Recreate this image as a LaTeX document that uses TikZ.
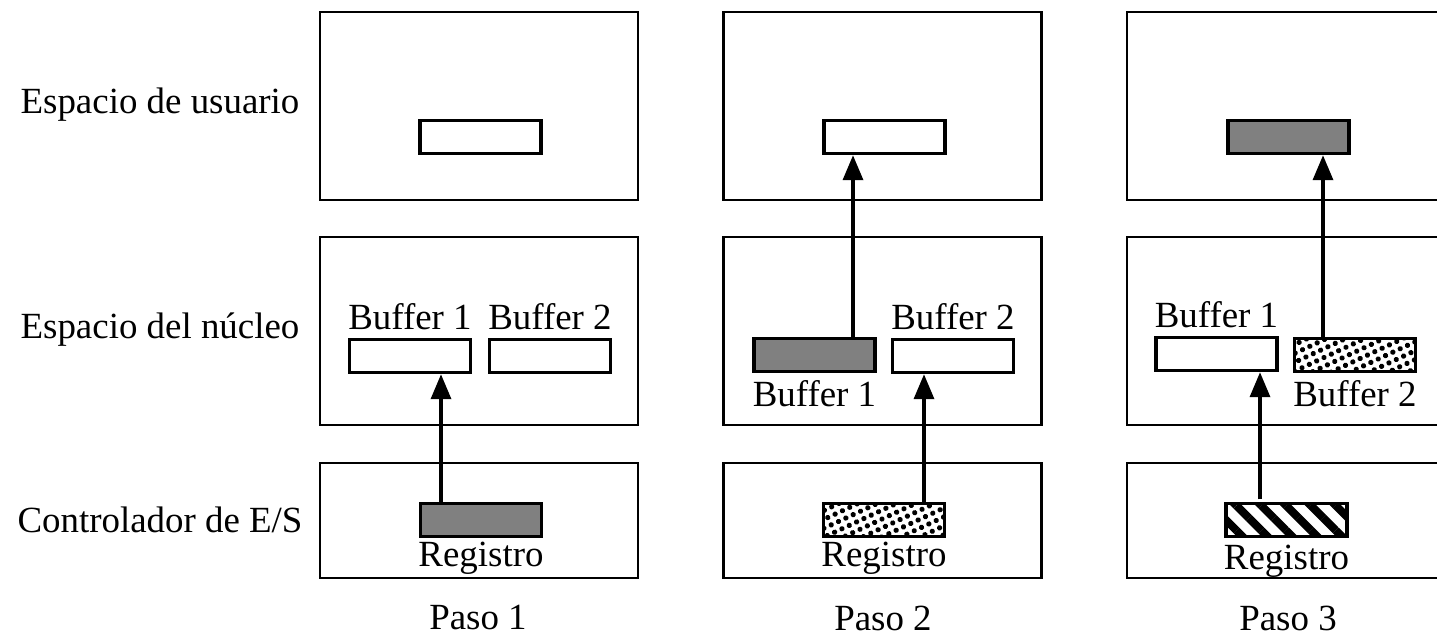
\documentclass[tikz,border=0pt]{standalone}
\usepackage{fontspec}
\setmainfont{Liberation Serif}
\usepackage{tikz}
\usetikzlibrary{arrows.meta, patterns.meta}
\definecolor{regfill}{RGB}{128,128,128}
\tikzset{
  area/.style={rectangle, draw=black, line width=0.75pt, minimum width=3.18cm, minimum height=1.88cm},
  ctrl/.style={rectangle, draw=black, line width=0.75pt, minimum width=3.18cm, minimum height=1.15cm},
  buf/.style={rectangle, draw=black, line width=1pt, fill=white, minimum width=1.21cm, minimum height=0.33cm, inner sep=0pt},
  full/.style={buf, fill=regfill},
  dotted buf/.style={buf, pattern={Dots[distance=2.3pt, radius=0.75pt, angle=25]}},
  hatched buf/.style={buf, pattern={Lines[angle=-45, distance=5pt, line width=2.3pt]}},
  lbl/.style={font=\fontsize{10.5}{12}\selectfont, inner sep=2pt},
  arrow/.style={-{Triangle[length=0.25cm, width=0.2cm]}, line width=1pt},
}

\begin{document}
\begin{tikzpicture}[font=\fontsize{10.5}{12}\selectfont]
  \useasboundingbox (0,0) rectangle (14.37,6.36);
  % Row titles
  \node (tuser) at (1.60,5.31) {Espacio de usuario};
  \node (tkern) at (1.60,3.06) {Espacio del núcleo};
  \node (tctrl) at (1.60,1.16) {Controlador de E/S};

  % Paso 1
  \node[area] (user1) at (4.79,5.30) {};
  \node[area] (kern1) at (4.79,3.05) {};
  \node[ctrl] (ctrl1) at (4.79,1.155) {};
  \node[buf] (dst1) at (4.805,4.99) {};
  \node[buf, label={[lbl]above:Buffer 1}] (bufa1) at (4.10,2.80) {};
  \node[buf, label={[lbl]above:Buffer 2}] (bufb1) at (5.50,2.80) {};
  \node[full, label={[lbl, inner sep=1pt]below:Registro}] (reg1) at (4.81,1.16) {};
  \node (paso1) at (4.78,0.18) {Paso 1};

  % Paso 2
  \node[area] (user2) at (8.825,5.30) {};
  \node[area] (kern2) at (8.825,3.05) {};
  \node[ctrl] (ctrl2) at (8.825,1.155) {};
  \node[buf] (dst2) at (8.845,4.99) {};
  \node[full, label={[lbl]below:Buffer 1}] (bufa2) at (8.145,2.81) {};
  \node[buf, label={[lbl]above:Buffer 2}] (bufb2) at (9.53,2.80) {};
  \node[dotted buf, label={[lbl, inner sep=1pt]below:Registro}] (reg2) at (8.84,1.16) {};
  \node (paso2) at (8.83,0.18) {Paso 2};

  % Paso 3
  \node[area] (user3) at (12.86,5.30) {};
  \node[area] (kern3) at (12.86,3.05) {};
  \node[ctrl] (ctrl3) at (12.86,1.155) {};
  \node[full] (dst3) at (12.885,4.99) {};
  \node[buf, label={[lbl]above:Buffer 1}] (bufa3) at (12.165,2.82) {};
  \node[dotted buf, label={[lbl]below:Buffer 2}] (bufb3) at (13.55,2.81) {};
  \node[hatched buf, label={[lbl, inner sep=1pt]below:Registro}] (reg3) at (12.865,1.16) {};
  \node (paso3) at (12.88,0.18) {Paso 3};

  % Copies between the buffers
  \draw[arrow] ([xshift=-4mm]reg1.north) coordinate (s1) -- (s1 |- bufa1.south);
  \draw[arrow] ([xshift=3.85mm]bufa2.north) coordinate (s2) -- (s2 |- dst2.south);
  \draw[arrow] ([xshift=4mm]reg2.north) coordinate (s3) -- (s3 |- bufb2.south);
  \draw[arrow] ([xshift=-2.65mm]reg3.north) coordinate (s4) -- (s4 |- bufa3.south);
  \draw[arrow] ([xshift=-3.2mm]bufb3.north) coordinate (s5) -- (s5 |- dst3.south);
\end{tikzpicture}
\end{document}
